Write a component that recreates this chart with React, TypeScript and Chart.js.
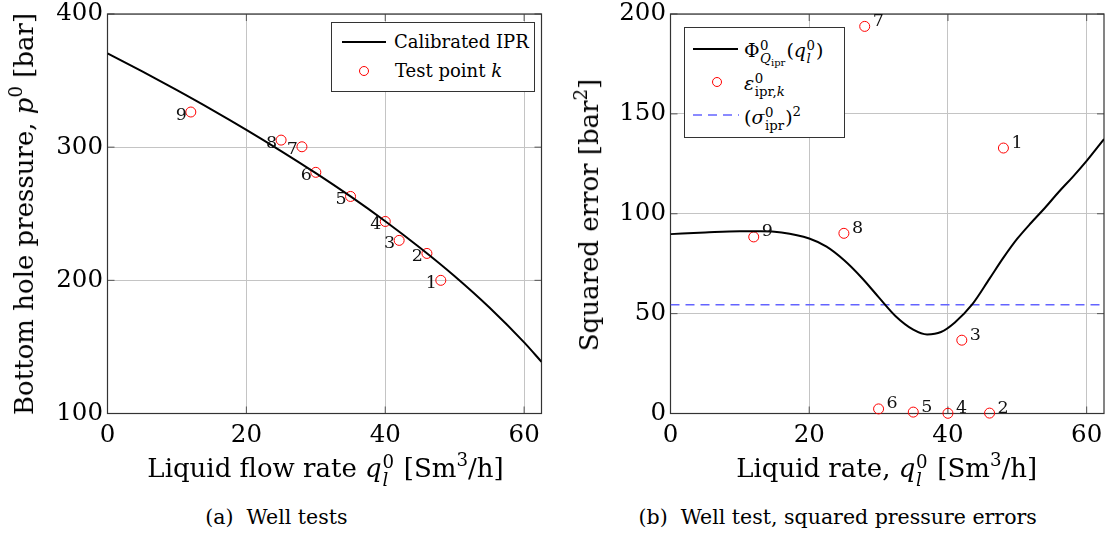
import React, { useEffect, useRef } from 'react';
import { Chart, registerables } from 'chart.js';

Chart.register(...registerables);

const FONT = '"DejaVu Serif", serif';
const GRID = '#c4c4c4';

// ---------------- data ----------------
const testIds = ['1', '2', '3', '4', '5', '6', '7', '8', '9'];
const testRate = [48, 46, 42, 40, 35, 30, 28, 25, 12];
const testPressure = [200, 220.2, 230, 244.2, 263, 281.1, 300.3, 305.3, 326.4];
const testSquaredError = [132.9, 0.2, 36.7, 0.1, 0.7, 2.3, 193.8, 90.2, 88.4];

const iprRate = [0, 5, 10, 15, 20, 25, 30, 35, 40, 45, 50, 55, 60, 62.5];
const iprPressure = [370.5, 356.9, 342.8, 328.2, 313.0, 297.1, 280.5, 263.0, 244.4, 224.5, 203.1, 179.6, 153.4, 138.8];

const phiRate = [0, 5, 10, 13, 16, 20, 22.5, 25, 27.5, 30, 32.5, 35, 37, 39, 41, 43.5, 46, 48, 50, 52, 54, 56, 58, 60, 62.5];
const phiValue = [89.8, 90.6, 91.2, 91.2, 90.6, 87.6, 83.5, 76.8, 68.2, 58.3, 48.6, 42.0, 39.6, 40.8, 45.6, 54.6, 67.5, 78, 87.5, 95.5, 103, 111, 118.5, 126.5, 137.4];

const sigmaRate = [0, 62.5];
const sigmaSquared = [54.5, 54.5];

const xTicks = [0, 20, 40, 60];
const pressureTicks = [100, 200, 300, 400];
const errorTicks = [0, 50, 100, 150, 200];

// ---------------- helpers ----------------
const pts = (xs: number[], ys: number[]) => xs.map((x, i) => ({ x, y: ys[i] }));

function makeScales(yMin: number, yMax: number, yTicks: number[], yWidth: number, xHeight: number) {
  const tickFont = { family: FONT, size: 24.5 };
  const zeroPad = (s: any) => {
    s.paddingLeft = 0;
    s.paddingRight = 0;
    s.paddingTop = 0;
    s.paddingBottom = 0;
  };
  return {
    x: {
      type: 'linear',
      min: 0,
      max: 62.5,
      afterBuildTicks: (s: any) => {
        s.ticks = xTicks.map((v) => ({ value: v }));
      },
      afterFit: (s: any) => {
        s.height = xHeight;
        zeroPad(s);
      },
      grid: { color: GRID, lineWidth: 1, drawTicks: false },
      border: { display: false },
      ticks: { font: tickFont, color: '#000', padding: 7, maxRotation: 0, autoSkip: false },
    },
    y: {
      type: 'linear',
      min: yMin,
      max: yMax,
      afterBuildTicks: (s: any) => {
        s.ticks = yTicks.map((v) => ({ value: v }));
      },
      afterFit: (s: any) => {
        s.width = yWidth;
        zeroPad(s);
      },
      grid: { color: GRID, lineWidth: 1, drawTicks: false },
      border: { display: false },
      ticks: { font: tickFont, color: '#000', padding: 4.5, autoSkip: false },
    },
  };
}

const framePlugin = {
  id: 'frameTicks',
  beforeDatasetsDraw(chart: any) {
    const { ctx, chartArea: a, scales } = chart;
    const tl = 7;
    ctx.save();
    ctx.strokeStyle = '#555';
    ctx.lineWidth = 1;
    ctx.beginPath();
    scales.x.ticks.forEach((t: any) => {
      const px = scales.x.getPixelForValue(t.value);
      ctx.moveTo(px, a.bottom);
      ctx.lineTo(px, a.bottom - tl);
      ctx.moveTo(px, a.top);
      ctx.lineTo(px, a.top + tl);
    });
    scales.y.ticks.forEach((t: any) => {
      const py = scales.y.getPixelForValue(t.value);
      ctx.moveTo(a.left, py);
      ctx.lineTo(a.left + tl, py);
      ctx.moveTo(a.right, py);
      ctx.lineTo(a.right - tl, py);
    });
    ctx.stroke();
    ctx.strokeStyle = '#333';
    ctx.lineWidth = 1.2;
    ctx.strokeRect(a.left, a.top, a.right - a.left, a.bottom - a.top);
    ctx.restore();
  },
};

function labelPlugin(datasetIndex: number, dx: number, dy: number, align: CanvasTextAlign) {
  return {
    id: 'pointIds',
    afterDatasetsDraw(chart: any) {
      const meta = chart.getDatasetMeta(datasetIndex);
      const ctx = chart.ctx;
      ctx.save();
      ctx.font = `17.5px ${FONT}`;
      ctx.fillStyle = '#111';
      ctx.textAlign = align;
      ctx.textBaseline = 'middle';
      meta.data.forEach((el: any, i: number) => {
        ctx.fillText(testIds[i], el.x + dx, el.y + dy);
      });
      ctx.restore();
    },
  };
}

const testPointStyle = {
  showLine: false,
  pointRadius: 5,
  pointHoverRadius: 5,
  pointBorderWidth: 1,
  pointBorderColor: '#ff0000',
  pointBackgroundColor: 'rgba(0,0,0,0)',
  borderColor: '#ff0000',
  backgroundColor: 'rgba(0,0,0,0)',
  clip: false,
};

function leftConfig(): any {
  return {
    type: 'scatter',
    data: {
      datasets: [
        {
          label: 'Calibrated IPR',
          data: pts(iprRate, iprPressure),
          showLine: true,
          borderColor: '#000',
          borderWidth: 2,
          pointRadius: 0,
          cubicInterpolationMode: 'monotone',
        },
        { label: 'Test point k', data: pts(testRate, testPressure), ...testPointStyle },
      ],
    },
    options: {
      animation: false,
      responsive: false,
      devicePixelRatio: 1,
      events: [],
      layout: { padding: { top: 14, right: 13.5, left: 0, bottom: 0 } },
      plugins: { legend: { display: false }, tooltip: { enabled: false } },
      scales: makeScales(100, 400, pressureTicks, 107.5, 56.5),
    },
    plugins: [framePlugin, labelPlugin(1, -4, 3, 'right')],
  };
}

function rightConfig(): any {
  return {
    type: 'scatter',
    data: {
      datasets: [
        {
          label: 'Phi',
          data: pts(phiRate, phiValue),
          showLine: true,
          borderColor: '#000',
          borderWidth: 2,
          pointRadius: 0,
          cubicInterpolationMode: 'monotone',
        },
        { label: 'eps', data: pts(testRate, testSquaredError), ...testPointStyle },
        {
          label: 'sigma2',
          data: pts(sigmaRate, sigmaSquared),
          showLine: true,
          borderColor: '#6464ff',
          borderWidth: 1.5,
          borderDash: [9, 6],
          pointRadius: 0,
        },
      ],
    },
    options: {
      animation: false,
      responsive: false,
      devicePixelRatio: 1,
      events: [],
      layout: { padding: { top: 14, right: 6, left: 0, bottom: 0 } },
      plugins: { legend: { display: false }, tooltip: { enabled: false } },
      scales: makeScales(0, 200, errorTicks, 110.5, 56.5),
    },
    plugins: [framePlugin, labelPlugin(1, 8, -5, 'left')],
  };
}

function ChartCanvas({ config, left, width, height }: { config: () => any; left: number; width: number; height: number }) {
  const ref = useRef<HTMLCanvasElement | null>(null);
  useEffect(() => {
    const chart = new Chart(ref.current as HTMLCanvasElement, config());
    return () => chart.destroy();
  }, []);
  return (
    <canvas
      ref={ref}
      width={width}
      height={height}
      style={{ position: 'absolute', left, top: 0, width, height, display: 'block' }}
    />
  );
}

// ---------------- math text helpers ----------------
function SS({ sup, sub }: { sup: React.ReactNode; sub: React.ReactNode }) {
  return (
    <span
      style={{
        display: 'inline-flex',
        flexDirection: 'column',
        alignItems: 'flex-start',
        fontSize: '0.7em',
        lineHeight: 1,
        verticalAlign: '0.5em',
        marginLeft: '0.04em',
        marginRight: '0.08em',
      }}
    >
      <span>{sup}</span>
      <span>{sub}</span>
    </span>
  );
}

const I = ({ children }: { children: React.ReactNode }) => <span style={{ fontStyle: 'italic' }}>{children}</span>;
const Sup = ({ children }: { children: React.ReactNode }) => (
  <span style={{ fontSize: '0.7em', verticalAlign: '0.6em', lineHeight: 0 }}>{children}</span>
);

const base: React.CSSProperties = { position: 'absolute', whiteSpace: 'nowrap', lineHeight: 1 };

export default function App() {
  return (
    <div
      style={{
        position: 'absolute',
        left: 0,
        top: 0,
        width: 1110,
        height: 541,
        overflow: 'hidden',
        background: '#fff',
        fontFamily: FONT,
        color: '#000',
      }}
    >
      <ChartCanvas config={leftConfig} left={0} width={555} height={470} />
      <ChartCanvas config={rightConfig} left={560} width={550} height={470} />

      {/* left axis titles */}
      <div style={{ ...base, fontSize: 26, left: 325.5, top: 453, transform: 'translateX(-50%)' }}>
        Liquid flow rate <I>q</I>
        <SS sup="0" sub={<I>l</I>} /> [Sm<Sup>3</Sup>/h]
      </div>
      <div style={{ ...base, fontSize: 26, left: 24, top: 214, transform: 'translate(-50%,-50%) rotate(-90deg)' }}>
        Bottom hole pressure, <I>p</I>
        <Sup>0</Sup> [bar]
      </div>

      {/* right axis titles */}
      <div style={{ ...base, fontSize: 26, left: 886.7, top: 453, transform: 'translateX(-50%)' }}>
        Liquid rate, <I>q</I>
        <SS sup="0" sub={<I>l</I>} /> [Sm<Sup>3</Sup>/h]
      </div>
      <div style={{ ...base, fontSize: 26, left: 588.7, top: 215.4, transform: 'translate(-50%,-50%) rotate(-90deg)' }}>
        Squared error [bar<Sup>2</Sup>]
      </div>

      {/* left legend */}
      <div
        style={{
          position: 'absolute',
          left: 331,
          top: 22,
          width: 204,
          height: 70,
          boxSizing: 'border-box',
          border: '1.2px solid #333',
          background: '#fff',
          fontSize: 18,
        }}
      >
        <div style={{ position: 'absolute', left: 10, top: 18, width: 44, height: 2, background: '#000' }} />
        <div style={{ ...base, left: 62, top: 10 }}>Calibrated IPR</div>
        <div
          style={{
            position: 'absolute',
            left: 26.5,
            top: 43,
            width: 10,
            height: 10,
            boxSizing: 'border-box',
            border: '1px solid #f00',
            borderRadius: '50%',
          }}
        />
        <div style={{ ...base, left: 63, top: 39 }}>
          Test point <I>k</I>
        </div>
      </div>

      {/* right legend */}
      <div
        style={{
          position: 'absolute',
          left: 684,
          top: 26.5,
          width: 161,
          height: 111,
          boxSizing: 'border-box',
          border: '1.2px solid #333',
          background: '#fff',
          fontSize: 19,
        }}
      >
        <div style={{ position: 'absolute', left: 8, top: 20.5, width: 45, height: 2, background: '#000' }} />
        <div style={{ ...base, left: 59, top: 11 }}>
          Φ
          <SS
            sup="0"
            sub={
              <span>
                <I>Q</I>
                <span style={{ fontSize: '0.75em', verticalAlign: '-0.3em' }}>ipr</span>
              </span>
            }
          />
          (<I>q</I>
          <SS sup="0" sub={<I>l</I>} />)
        </div>
        <div
          style={{
            position: 'absolute',
            left: 26.5,
            top: 49,
            width: 10,
            height: 10,
            boxSizing: 'border-box',
            border: '1px solid #f00',
            borderRadius: '50%',
          }}
        />
        <div style={{ ...base, left: 59, top: 44 }}>
          <I>ε</I>
          <SS
            sup="0"
            sub={
              <span>
                ipr,<I>k</I>
              </span>
            }
          />
        </div>
        <svg style={{ position: 'absolute', left: 8, top: 84 }} width={46} height={6}>
          <line x1={0} y1={3} x2={46} y2={3} stroke="#6464ff" strokeWidth={1.5} strokeDasharray="9 6" />
        </svg>
        <div style={{ ...base, left: 59, top: 78 }}>
          (<I>σ</I>
          <SS sup="0" sub="ipr" />)<Sup>2</Sup>
        </div>
      </div>

      {/* captions */}
      <div style={{ ...base, fontSize: 20.5, left: 276.4, top: 507, transform: 'translateX(-50%)' }}>
        (a)&nbsp; Well tests
      </div>
      <div style={{ ...base, fontSize: 20.5, left: 837.7, top: 507, transform: 'translateX(-50%)' }}>
        (b)&nbsp; Well test, squared pressure errors
      </div>
    </div>
  );
}
